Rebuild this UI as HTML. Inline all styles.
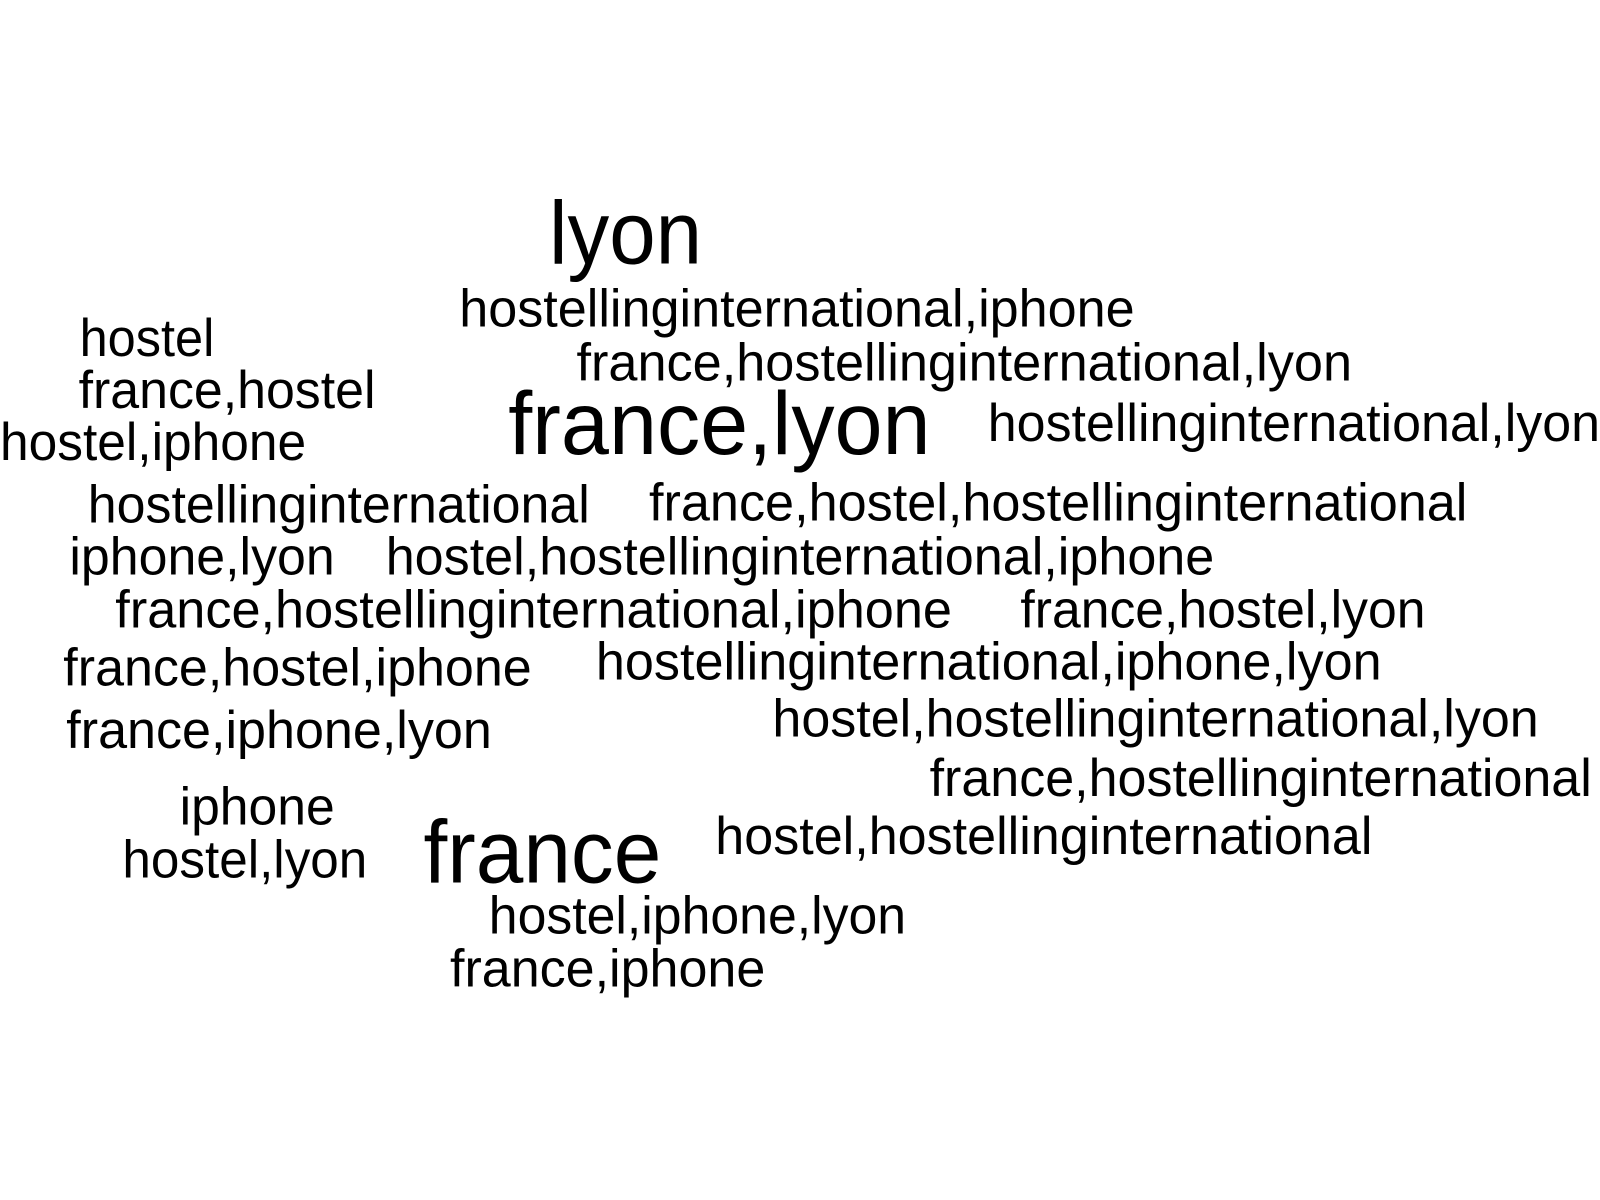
<!DOCTYPE html>
<html><head><meta charset="utf-8"><style>
html,body{margin:0;padding:0;background:#fff;}
svg{display:block;}
text{font-family:"Liberation Sans",Arial,sans-serif;fill:#000;}
</style></head>
<body>
<svg id="cloud" width="1600" height="1200" viewBox="0 0 1600 1200" xmlns="http://www.w3.org/2000/svg">
<rect width="1600" height="1200" fill="#fff"/>
</svg>
<script>
const words = ["lyon","hostellinginternational,iphone","france,hostellinginternational,lyon","hostel","france,hostel","hostel,iphone","france,lyon","hostellinginternational,lyon","hostellinginternational","france,hostel,hostellinginternational","iphone,lyon","hostel,hostellinginternational,iphone","france,hostellinginternational,iphone","france,hostel,lyon","france,hostel,iphone","hostellinginternational,iphone,lyon","hostel,hostellinginternational,lyon","france,iphone,lyon","france,hostellinginternational","iphone","france","hostel,hostellinginternational","hostel,lyon","hostel,iphone,lyon","france,iphone"];
const freq = [2,1,1,1,1,1,2,1,1,1,1,1,1,1,1,1,1,1,1,1,2,1,1,1,1];
const xLeft = [538,450,565,78,77,0,498,968,86,636,68,378,113,1000,62,584,757,65,911,176,415,701,120,479,441];
const xRight = [688,1112,1325,210,368,300,912,1568,578,1438,328,1190,933,1397,521,1354,1508,482,1560,328,648,1345,360,888,750];
const baseY = [258,320,373,349,400,451,445,432,512,510,563,563,615,615,672,666,722,733,780,808,865,837,860,915,967];
const S = 1600/1568;
const svg = document.getElementById('cloud');
const NS = 'http://www.w3.org/2000/svg';
words.forEach((w,i)=>{
  const t = document.createElementNS(NS,'text');
  
  
  t.setAttribute('x', (xLeft[i]*S).toFixed(1));
  t.setAttribute('y', (baseY[i]*S).toFixed(1));
  t.setAttribute('font-size', freq[i] > 1 ? 89 : 53);
  t.setAttribute('textLength', ((xRight[i]-xLeft[i])*S).toFixed(1));
  t.setAttribute('lengthAdjust', 'spacingAndGlyphs');
  t.textContent = w;
  svg.appendChild(t);
});
</script>
</body></html>
